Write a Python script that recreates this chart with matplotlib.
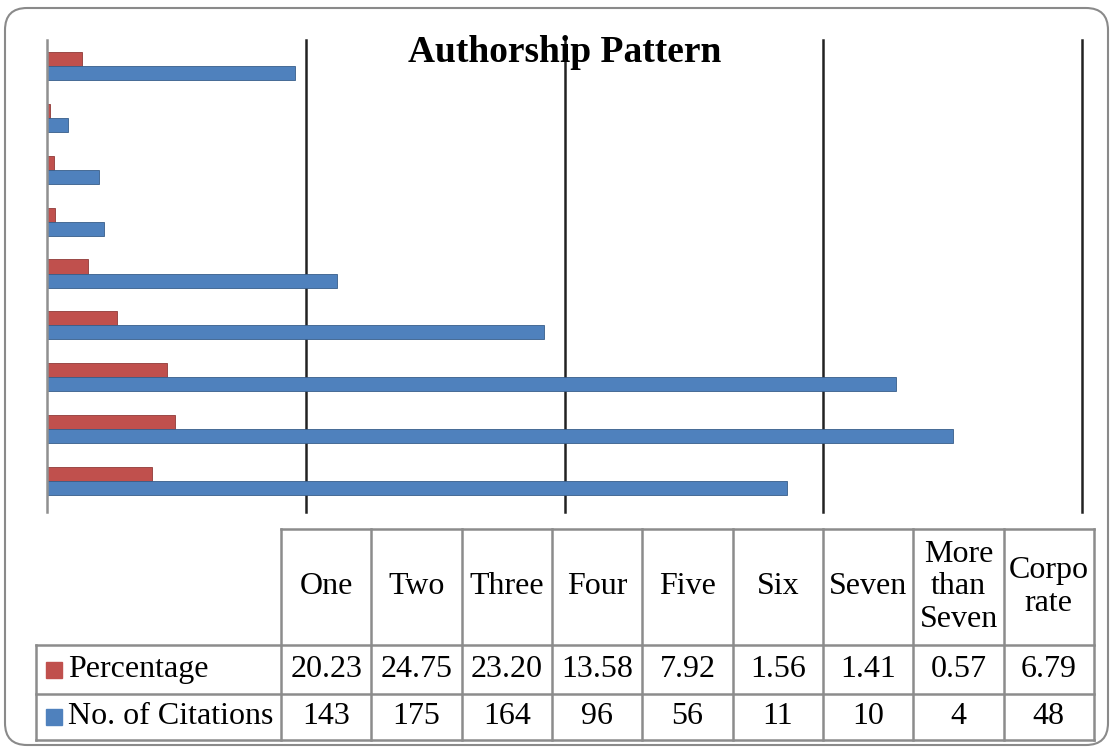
import matplotlib
matplotlib.use('Agg')
import matplotlib.pyplot as plt
from matplotlib.patches import FancyBboxPatch, Rectangle
import numpy as np

# 데이터
categories = ['One', 'Two', 'Three', 'Four', 'Five', 'Six', 'Seven', 'More than Seven', 'Corporate']
header_labels = ['One', 'Two', 'Three', 'Four', 'Five', 'Six', 'Seven', 'More\nthan\nSeven', 'Corpo\nrate']
percentage = [20.23, 24.75, 23.20, 13.58, 7.92, 1.56, 1.41, 0.57, 6.79]
citations = [143, 175, 164, 96, 56, 11, 10, 4, 48]
pct_labels = ['20.23', '24.75', '23.20', '13.58', '7.92', '1.56', '1.41', '0.57', '6.79']
cit_labels = ['143', '175', '164', '96', '56', '11', '10', '4', '48']

RED = '#C0504D'
BLUE = '#4F81BD'
plt.rcParams['font.family'] = ['Liberation Serif', 'DejaVu Serif']

W, H = 1113, 751
fig = plt.figure(figsize=(W / 100, H / 100), dpi=100)

def px_axes(x0, y0, x1, y1):
    return fig.add_axes([x0 / W, 1 - y1 / H, (x1 - x0) / W, (y1 - y0) / H])

# 바깥 둥근 테두리
bg = fig.add_axes([0, 0, 1, 1], zorder=-5)
bg.set_xlim(0, W)
bg.set_ylim(H, 0)
bg.axis('off')
r = 22
bg.add_patch(FancyBboxPatch((5 + r, 8 + r), W - 10 - 2 * r, H - 14 - 2 * r,
                            boxstyle=f'round,pad={r}', fc='white', ec='#8a8a8a', lw=1.5))

# ---- 막대 그래프 ----
ax = px_axes(47, 40, 1082, 507)
y = np.arange(len(categories))
bh = 0.27
ax.barh(y + bh / 2, percentage, height=bh, color=RED, edgecolor='#8f3a38', lw=0.6, zorder=3)
ax.barh(y - bh / 2, citations, height=bh, color=BLUE, edgecolor='#385D8A', lw=0.6, zorder=3)
ax.set_xlim(0, 200)
ax.set_ylim(-0.5, len(categories) - 0.5)
for s in ax.spines.values():
    s.set_visible(False)
ax.set_xticks([])
ax.set_yticks([])
for gx in [50, 100, 150, 200]:
    ax.axvline(gx, ymin=-0.01, color='#222222', lw=1.8, zorder=1, clip_on=False)
ax.axvline(0, ymin=-0.01, color='#909090', lw=1.8, zorder=4, clip_on=False)

fig.text(565 / W, 1 - 53 / H, 'Authorship Pattern', ha='center', va='center',
         fontsize=27, fontweight='bold')

# ---- 데이터 테이블 ----
tb = px_axes(36, 529, 1094, 740)
lab_w = 245 / 90.33
n = len(categories)
rows_h = [116, 49, 46]
edges = np.cumsum([0] + rows_h)
tb.set_xlim(-lab_w, n)
tb.set_ylim(edges[-1], 0)
tb.axis('off')
lc = '#8c8c8c'
lw = 1.8
for i in range(n + 1):
    tb.plot([i, i], [0, edges[-1]], color=lc, lw=lw, clip_on=False)
tb.plot([-lab_w, -lab_w], [edges[1], edges[-1]], color=lc, lw=lw, clip_on=False)
tb.plot([0, n], [0, 0], color=lc, lw=lw, clip_on=False)
for e in edges[1:]:
    tb.plot([-lab_w, n], [e, e], color=lc, lw=lw, clip_on=False)

fs = 23
for i, lab in enumerate(header_labels):
    tb.text(i + 0.5, (edges[0] + edges[1]) / 2, lab, ha='center', va='center',
            fontsize=fs, linespacing=1.15)
for i in range(n):
    tb.text(i + 0.5, (edges[1] + edges[2]) / 2, pct_labels[i], ha='center', va='center', fontsize=fs)
    tb.text(i + 0.5, (edges[2] + edges[3]) / 2, cit_labels[i], ha='center', va='center', fontsize=fs)

sq = 16 / 90.33
for row, (name, col) in enumerate([('Percentage', RED), ('No. of Citations', BLUE)]):
    cy = (edges[row + 1] + edges[row + 2]) / 2
    tb.add_patch(Rectangle((-lab_w + 10 / 90.33, cy - 8), sq, 16, color=col, clip_on=False))
    tb.text(-lab_w + 32 / 90.33, cy, name, ha='left', va='center', fontsize=fs)

fig.savefig('out.png', dpi=100)
